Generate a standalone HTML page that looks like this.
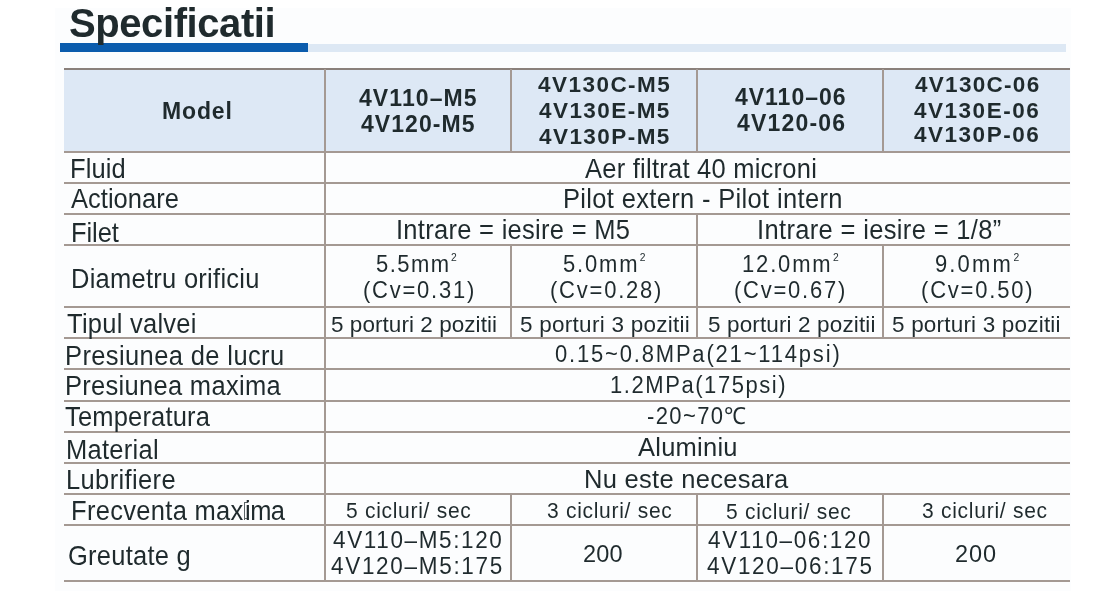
<!DOCTYPE html><html><head><meta charset="utf-8"><style>
html,body{margin:0;padding:0;width:1119px;height:591px;overflow:hidden;background:#fff}
.t{position:absolute;white-space:nowrap;font-family:"Liberation Sans",sans-serif;color:#1f2a2d;transform-origin:0 0}
.b{font-weight:bold}
sup{font-size:47%;vertical-align:0;position:relative;top:-0.95em;margin-left:0.05em}
.r{position:absolute}
.brk{display:inline-block;width:2px;height:17px;border:1.2px solid #4a5355;border-right:0;margin:0 1px 0 4px;vertical-align:-1px;box-sizing:border-box}
.wrap{position:absolute;left:0;top:0;width:1119px;height:591px;filter:blur(0.30px)}
</style></head><body>
<div class="wrap">
<div class="r" style="left:55.0px;top:8.0px;width:1016.0px;height:583.0px;background:#fcfdfe"></div>
<div class="r" style="left:60.0px;top:43.0px;width:248.0px;height:9.0px;background:#0b5cad"></div>
<div class="r" style="left:308.0px;top:43.5px;width:758.0px;height:8.0px;background:#dde8f4"></div>
<div class="r" style="left:64.0px;top:70.0px;width:1006.0px;height:81.0px;background:#dde8f5"></div>
<div class="r" style="left:64.0px;top:68.0px;width:1006.0px;height:2.0px;background:#8a807b"></div>
<div class="r" style="left:64.0px;top:150.5px;width:1006.0px;height:2.0px;background:#a49993"></div>
<div class="r" style="left:64.0px;top:182.0px;width:1006.0px;height:2.0px;background:#a49993"></div>
<div class="r" style="left:64.0px;top:213.0px;width:1006.0px;height:2.0px;background:#a49993"></div>
<div class="r" style="left:64.0px;top:244.0px;width:1006.0px;height:2.0px;background:#a49993"></div>
<div class="r" style="left:64.0px;top:306.0px;width:1006.0px;height:2.0px;background:#a49993"></div>
<div class="r" style="left:64.0px;top:337.0px;width:1006.0px;height:2.0px;background:#a49993"></div>
<div class="r" style="left:64.0px;top:368.0px;width:1006.0px;height:2.0px;background:#a49993"></div>
<div class="r" style="left:64.0px;top:399.5px;width:1006.0px;height:2.0px;background:#a49993"></div>
<div class="r" style="left:64.0px;top:430.5px;width:1006.0px;height:2.0px;background:#a49993"></div>
<div class="r" style="left:64.0px;top:462.0px;width:1006.0px;height:2.0px;background:#a49993"></div>
<div class="r" style="left:64.0px;top:493.0px;width:1006.0px;height:2.0px;background:#a49993"></div>
<div class="r" style="left:64.0px;top:524.0px;width:1006.0px;height:2.0px;background:#a49993"></div>
<div class="r" style="left:64.0px;top:580.0px;width:1006.0px;height:2.0px;background:#a49993"></div>
<div class="r" style="left:323.8px;top:69.0px;width:2.0px;height:513.0px;background:#a49993"></div>
<div class="r" style="left:510.0px;top:69.0px;width:2.0px;height:83.0px;background:#a49993"></div>
<div class="r" style="left:510.0px;top:244.0px;width:2.0px;height:95.0px;background:#a49993"></div>
<div class="r" style="left:510.0px;top:493.0px;width:2.0px;height:89.0px;background:#a49993"></div>
<div class="r" style="left:696.0px;top:69.0px;width:2.0px;height:83.0px;background:#a49993"></div>
<div class="r" style="left:696.0px;top:244.0px;width:2.0px;height:95.0px;background:#a49993"></div>
<div class="r" style="left:696.0px;top:493.0px;width:2.0px;height:89.0px;background:#a49993"></div>
<div class="r" style="left:882.0px;top:69.0px;width:2.0px;height:83.0px;background:#a49993"></div>
<div class="r" style="left:882.0px;top:244.0px;width:2.0px;height:95.0px;background:#a49993"></div>
<div class="r" style="left:882.0px;top:493.0px;width:2.0px;height:89.0px;background:#a49993"></div>
<div class="r" style="left:696.0px;top:213.0px;width:2.0px;height:33.0px;background:#a49993"></div>
<div class="r" style="left:243.6px;top:501.5px;width:1.4px;height:18.0px;background:#5b6466"></div>
<div class="r" style="left:243.6px;top:501.5px;width:4.0px;height:1.2px;background:#5b6466"></div>
<div class="r" style="left:243.6px;top:518.3px;width:3.0px;height:1.2px;background:#5b6466"></div>
<div class="t b" style="left:69.00px;top:2.64px;font-size:40.00px;line-height:40.00px;letter-spacing:-0.412px">Specificatii</div>
<div class="t b" style="left:162.00px;top:100.23px;font-size:23.00px;line-height:23.00px;letter-spacing:0.867px">Model</div>
<div class="t b" style="left:359.00px;top:86.63px;font-size:23.00px;line-height:23.00px;letter-spacing:1.083px">4V110&#8211;M5</div>
<div class="t b" style="left:361.00px;top:112.88px;font-size:23.00px;line-height:23.00px;letter-spacing:1.057px">4V120-M5</div>
<div class="t b" style="left:538.00px;top:74.15px;font-size:22.50px;line-height:22.50px;letter-spacing:1.466px">4V130C-M5</div>
<div class="t b" style="left:539.00px;top:99.95px;font-size:22.50px;line-height:22.50px;letter-spacing:1.438px">4V130E-M5</div>
<div class="t b" style="left:539.00px;top:125.65px;font-size:22.50px;line-height:22.50px;letter-spacing:1.438px">4V130P-M5</div>
<div class="t b" style="left:735.00px;top:86.03px;font-size:23.00px;line-height:23.00px;letter-spacing:0.989px">4V110&#8211;06</div>
<div class="t b" style="left:737.00px;top:112.43px;font-size:23.00px;line-height:23.00px;letter-spacing:1.199px">4V120-06</div>
<div class="t b" style="left:915.00px;top:73.85px;font-size:22.50px;line-height:22.50px;letter-spacing:1.294px">4V130C-06</div>
<div class="t b" style="left:914.00px;top:99.65px;font-size:22.50px;line-height:22.50px;letter-spacing:1.517px">4V130E-06</div>
<div class="t b" style="left:914.00px;top:124.45px;font-size:22.50px;line-height:22.50px;letter-spacing:1.517px">4V130P-06</div>
<div class="t" style="left:70.00px;top:155.10px;font-size:27.29px;line-height:27.29px;letter-spacing:0.093px;transform:scaleX(0.9346)">Fluid</div>
<div class="t" style="left:71.00px;top:185.10px;font-size:27.29px;line-height:27.29px;letter-spacing:0.022px;transform:scaleX(0.9346)">Actionare</div>
<div class="t" style="left:71.00px;top:218.50px;font-size:27.29px;line-height:27.29px;letter-spacing:-0.066px;transform:scaleX(0.9346)">Filet</div>
<div class="t" style="left:71.00px;top:264.70px;font-size:27.29px;line-height:27.29px;letter-spacing:0.285px;transform:scaleX(0.9346)">Diametru orificiu</div>
<div class="t" style="left:67.00px;top:309.90px;font-size:27.29px;line-height:27.29px;letter-spacing:0.276px;transform:scaleX(0.9346)">Tipul valvei</div>
<div class="t" style="left:65.00px;top:341.80px;font-size:27.29px;line-height:27.29px;letter-spacing:0.413px;transform:scaleX(0.9346)">Presiunea de lucru</div>
<div class="t" style="left:65.00px;top:371.80px;font-size:27.29px;line-height:27.29px;letter-spacing:0.318px;transform:scaleX(0.9346)">Presiunea maxima</div>
<div class="t" style="left:65.00px;top:403.00px;font-size:27.29px;line-height:27.29px;letter-spacing:0.182px;transform:scaleX(0.9346)">Temperatura</div>
<div class="t" style="left:66.00px;top:435.70px;font-size:27.29px;line-height:27.29px;letter-spacing:0.295px;transform:scaleX(0.9346)">Material</div>
<div class="t" style="left:66.00px;top:466.40px;font-size:27.29px;line-height:27.29px;letter-spacing:0.389px;transform:scaleX(0.9346)">Lubrifiere</div>
<div class="t" style="left:71.00px;top:496.90px;font-size:27.29px;line-height:27.29px;letter-spacing:0.330px;transform:scaleX(0.9346)">Frecventa max</div>
<div class="t" style="left:245.00px;top:496.90px;font-size:27.29px;line-height:27.29px;letter-spacing:-0.569px;transform:scaleX(0.9346)">ima</div>
<div class="t" style="left:67.70px;top:542.30px;font-size:27.29px;line-height:27.29px;letter-spacing:0.266px;transform:scaleX(0.9346)">Greutate g</div>
<div class="t" style="left:585.00px;top:154.70px;font-size:27.29px;line-height:27.29px;letter-spacing:0.262px;transform:scaleX(0.9346)">Aer filtrat 40 microni</div>
<div class="t" style="left:563.00px;top:185.00px;font-size:27.29px;line-height:27.29px;letter-spacing:0.360px;transform:scaleX(0.9346)">Pilot extern - Pilot intern</div>
<div class="t" style="left:396.00px;top:216.10px;font-size:27.29px;line-height:27.29px;letter-spacing:0.311px;transform:scaleX(0.9346)">Intrare = iesire = M5</div>
<div class="t" style="left:757.00px;top:216.20px;font-size:27.29px;line-height:27.29px;letter-spacing:0.372px;transform:scaleX(0.9346)">Intrare = iesire = 1/8&#8221;</div>
<div class="t" style="left:376.00px;top:251.89px;font-size:23.76px;line-height:23.76px;letter-spacing:1.560px;transform:scaleX(0.9259)">5.5mm<sup>2</sup></div>
<div class="t" style="left:363.00px;top:278.39px;font-size:23.76px;line-height:23.76px;letter-spacing:1.901px;transform:scaleX(0.9259)">(Cv=0.31)</div>
<div class="t" style="left:563.00px;top:251.89px;font-size:23.76px;line-height:23.76px;letter-spacing:1.962px;transform:scaleX(0.9259)">5.0mm<sup>2</sup></div>
<div class="t" style="left:550.00px;top:278.39px;font-size:23.76px;line-height:23.76px;letter-spacing:1.919px;transform:scaleX(0.9259)">(Cv=0.28)</div>
<div class="t" style="left:742.00px;top:251.89px;font-size:23.76px;line-height:23.76px;letter-spacing:1.981px;transform:scaleX(0.9259)">12.0mm<sup>2</sup></div>
<div class="t" style="left:734.00px;top:278.39px;font-size:23.76px;line-height:23.76px;letter-spacing:1.901px;transform:scaleX(0.9259)">(Cv=0.67)</div>
<div class="t" style="left:935.00px;top:251.89px;font-size:23.76px;line-height:23.76px;letter-spacing:2.313px;transform:scaleX(0.9259)">9.0mm<sup>2</sup></div>
<div class="t" style="left:921.00px;top:278.39px;font-size:23.76px;line-height:23.76px;letter-spacing:1.950px;transform:scaleX(0.9259)">(Cv=0.50)</div>
<div class="t" style="left:331.00px;top:313.93px;font-size:22.05px;line-height:22.05px;letter-spacing:0.050px;transform:scaleX(1.0204)">5 porturi 2 pozitii</div>
<div class="t" style="left:520.00px;top:313.93px;font-size:22.05px;line-height:22.05px;letter-spacing:0.259px;transform:scaleX(1.0204)">5 porturi 3 pozitii</div>
<div class="t" style="left:708.00px;top:313.93px;font-size:22.05px;line-height:22.05px;letter-spacing:0.129px;transform:scaleX(1.0204)">5 porturi 2 pozitii</div>
<div class="t" style="left:892.00px;top:313.93px;font-size:22.05px;line-height:22.05px;letter-spacing:0.188px;transform:scaleX(1.0204)">5 porturi 3 pozitii</div>
<div class="t" style="left:555.00px;top:342.87px;font-size:23.54px;line-height:23.54px;letter-spacing:1.943px;transform:scaleX(0.9346)">0.15~0.8MPa(21~114psi)</div>
<div class="t" style="left:610.00px;top:373.77px;font-size:23.54px;line-height:23.54px;letter-spacing:1.679px;transform:scaleX(0.9346)">1.2MPa(175psi)</div>
<div class="t" style="left:647.00px;top:405.07px;font-size:23.54px;line-height:23.54px;letter-spacing:1.479px;transform:scaleX(0.9346)">-20~70&#8451;</div>
<div class="t" style="left:638.00px;top:434.35px;font-size:26.52px;line-height:26.52px;letter-spacing:0.261px;transform:scaleX(0.9615)">Aluminiu</div>
<div class="t" style="left:584.00px;top:465.75px;font-size:26.52px;line-height:26.52px;letter-spacing:0.304px;transform:scaleX(0.9615)">Nu este necesara</div>
<div class="t" style="left:346.00px;top:499.61px;font-size:21.84px;line-height:21.84px;letter-spacing:0.745px;transform:scaleX(0.9615)">5 cicluri/ sec</div>
<div class="t" style="left:547.00px;top:499.61px;font-size:21.84px;line-height:21.84px;letter-spacing:0.745px;transform:scaleX(0.9615)">3 cicluri/ sec</div>
<div class="t" style="left:726.00px;top:500.61px;font-size:21.84px;line-height:21.84px;letter-spacing:0.745px;transform:scaleX(0.9615)">5 cicluri/ sec</div>
<div class="t" style="left:922.00px;top:499.61px;font-size:21.84px;line-height:21.84px;letter-spacing:0.768px;transform:scaleX(0.9615)">3 cicluri/ sec</div>
<div class="t" style="left:333.00px;top:529.39px;font-size:23.40px;line-height:23.40px;letter-spacing:1.700px;transform:scaleX(0.9615)">4V110&#8211;M5:120</div>
<div class="t" style="left:331.00px;top:554.89px;font-size:23.40px;line-height:23.40px;letter-spacing:1.769px;transform:scaleX(0.9615)">4V120&#8211;M5:175</div>
<div class="t" style="left:583.00px;top:541.91px;font-size:24.44px;line-height:24.44px;letter-spacing:0.238px;transform:scaleX(0.9615)">200</div>
<div class="t" style="left:708.00px;top:529.39px;font-size:23.40px;line-height:23.40px;letter-spacing:1.699px;transform:scaleX(0.9615)">4V110&#8211;06:120</div>
<div class="t" style="left:707.00px;top:554.79px;font-size:23.40px;line-height:23.40px;letter-spacing:1.769px;transform:scaleX(0.9615)">4V120&#8211;06:175</div>
<div class="t" style="left:955.00px;top:541.91px;font-size:24.44px;line-height:24.44px;letter-spacing:0.934px;transform:scaleX(0.9615)">200</div>

</div>
</body></html>
